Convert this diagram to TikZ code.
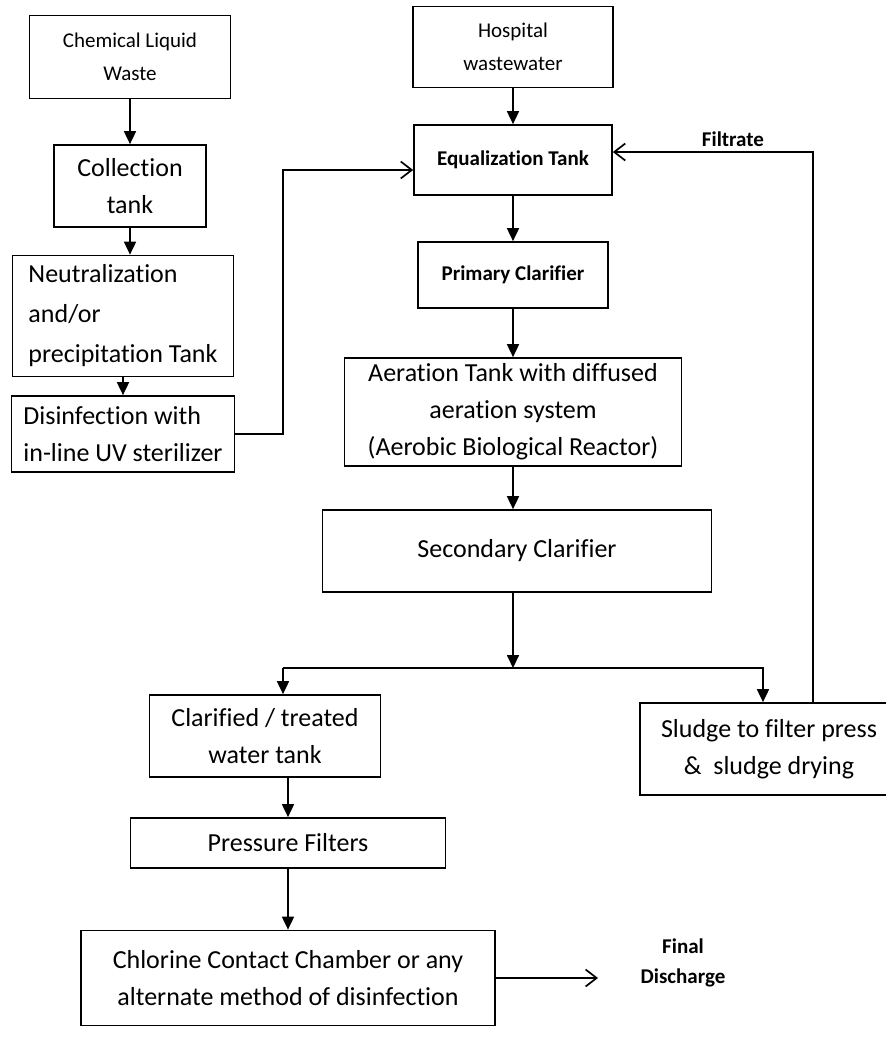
\documentclass[tikz,border=0pt]{standalone}
\usepackage{fontspec}
\setmainfont{Carlito}[Ligatures=NoCommon]
\usetikzlibrary{arrows.meta}

\begin{document}
\begin{tikzpicture}
[
x=1pt, y=-1pt,
box/.style={draw, line width=1.7pt, inner sep=0pt, align=center, font=\fontsize{26}{37}\selectfont},
small/.style={font=\fontsize{21}{33}\selectfont},
bold/.style={font=\fontsize{21}{30}\selectfont\bfseries},
flow/.style={line width=1.7pt, -{Triangle[length=13pt,width=12pt]}},
back/.style={line width=1.7pt, -{Straight Barb[length=11pt,width=17pt,line width=1.7pt]}}
]
\useasboundingbox (0,0) rectangle (886,1039);

\node[box, small, minimum width=201pt, minimum height=83pt] (chem) at (130,57) {Chemical Liquid\\Waste};
\node[box, minimum width=152pt, minimum height=82pt] (coll) at (130,186) {Collection\\tank};
\node[box, align=left, font=\fontsize{26}{40}\selectfont, minimum width=221pt, minimum height=121pt] (neut) at (123,316) {Neutralization\\and/or\\precipitation Tank};
\node[box, align=left, minimum width=223pt, minimum height=76pt] (dis) at (123,434) {Disinfection with\\in-line UV sterilizer};

\node[box, small, minimum width=200pt, minimum height=81pt] (hosp) at (513,47) {Hospital\\wastewater};
\node[box, bold, minimum width=198pt, minimum height=70pt] (eq) at (513,160) {Equalization Tank};
\node[box, bold, minimum width=190pt, minimum height=66pt] (prim) at (513,275) {Primary Clarifier};
\node[box, minimum width=337pt, minimum height=108pt] (aer) at (513,412) {Aeration Tank with diffused\\aeration system\\(Aerobic Biological Reactor)};
\node[box, minimum width=389pt, minimum height=82pt] (sec) at (517,551) {Secondary Clarifier};

\node[box, minimum width=231pt, minimum height=82pt] (clar) at (265,736) {Clarified / treated\\water tank};
\node[box, minimum width=258pt, minimum height=92pt] (sludge) at (769,749) {Sludge to filter press\\\&~~sludge drying};
\node[box, minimum width=315pt, minimum height=50pt] (press) at (288,843) {Pressure Filters};
\node[box, minimum width=414pt, minimum height=95pt] (chlor) at (288,978) {Chlorine Contact Chamber or any\\alternate method of disinfection};
\node[bold, align=center] (fin) at (683,963) {Final\\Discharge};

\coordinate (bend) at (283,170);
\coordinate (split) at (513,668);
\coordinate (lft) at (283,668);
\coordinate (rgt) at (763,668);
\coordinate (ret) at (813,152);
\coordinate (out) at (598,978);

\draw[flow] (chem.south) -- (coll.north);
\draw[flow] (coll.south) -- (coll.south |- neut.north);
\draw[flow] (neut.south) -- (dis.north);
\draw[back] (dis.east) -| (bend) -- (eq.west |- bend);

\draw[flow] (hosp.south) -- (eq.north);
\draw[flow] (eq.south) -- (prim.north);
\draw[flow] (prim.south) -- (aer.north);
\draw[flow] (aer.south) -- (aer.south |- sec.north);
\draw[flow] (split |- sec.south) -- (split);

\draw[flow] (lft) -- (rgt) -- (rgt |- sludge.north);
\draw[flow] (lft) -- (lft |- clar.north);
\draw[back] (ret |- sludge.north) -- (ret) -- node[pos=0.4, above=1pt, bold] {Filtrate} (ret -| eq.east);

\draw[flow] (press.north |- clar.south) -- (press.north);
\draw[flow] (press.south) -- (chlor.north);
\draw[back] (chlor.east) -- (out);
\end{tikzpicture}
\end{document}
